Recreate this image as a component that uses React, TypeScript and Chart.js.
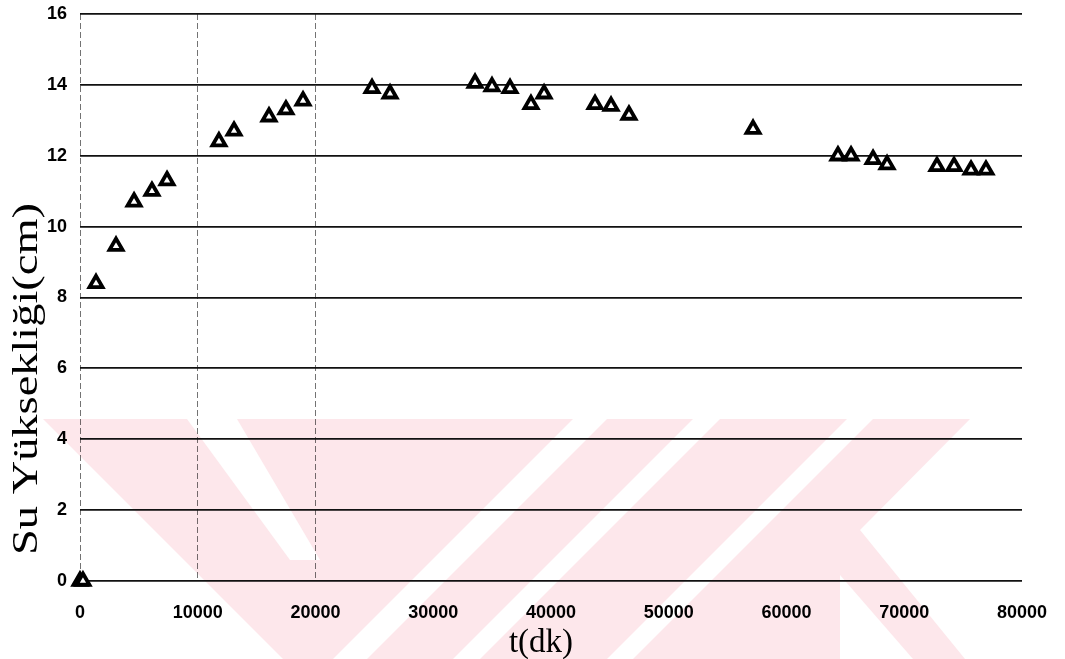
import React, { useEffect, useRef } from "react";
import { Chart, registerables } from "chart.js";

Chart.register(...registerables);

// ---- data ----
const timeMinutes = [
  0, 250, 1360, 3060, 4590, 6110, 7390, 11800, 13080, 16050, 17490, 18940,
  24800, 26330, 33550, 34990, 36520, 38300, 39410, 43740, 45100, 46620,
  57160, 64370, 65480, 67350, 68540, 72780, 74230, 75670, 76940,
];
const waterHeight = [
  0, 0, 8.4, 9.45, 10.7, 11.0, 11.3, 12.4, 12.7, 13.1, 13.3, 13.55,
  13.9, 13.75, 14.05, 13.95, 13.9, 13.45, 13.75, 13.45, 13.4, 13.15,
  12.75, 12.0, 12.0, 11.9, 11.75, 11.7, 11.7, 11.6, 11.6,
];
const xTickValues = [0, 10000, 20000, 30000, 40000, 50000, 60000, 70000, 80000];
const yTickValues = [0, 2, 4, 6, 8, 10, 12, 14, 16];
const dashedVerticals = [0, 10000, 20000];
const xTitle = "t(dk)";
const yTitle = "Su Yüksekliği(cm)";

const W = 1065;
const H = 659;

const watermarkPlugin = {
  id: "watermark",
  beforeDraw(chart: any) {
    const ctx = chart.ctx;
    ctx.save();
    ctx.fillStyle = "#ffffff";
    ctx.fillRect(0, 0, W, H);
    const poly = (pts: number[][], color: string) => {
      ctx.beginPath();
      ctx.moveTo(pts[0][0], pts[0][1]);
      for (let i = 1; i < pts.length; i++) ctx.lineTo(pts[i][0], pts[i][1]);
      ctx.closePath();
      ctx.fillStyle = color;
      ctx.fill();
    };
    const pink = "#fde7eb";
    poly([[43, 419], [970, 419], [860, 530], [965, 659], [283, 659]], pink);
    const white = "#ffffff";
    poly([[187, 419], [237, 419], [320, 560], [290, 560]], white);
    poly([[573, 419], [607, 419], [367, 659], [333, 659]], white);
    poly([[693, 419], [720, 419], [480, 659], [453, 659]], white);
    poly([[847, 419], [873, 419], [633, 659], [607, 659]], white);
    poly([[840, 575], [913, 659], [840, 659]], white);
    ctx.restore();
  },
};

const titlesPlugin = {
  id: "titles",
  afterDraw(chart: any) {
    const ctx = chart.ctx;
    ctx.save();
    ctx.fillStyle = "#000";
    ctx.font = 'normal 36px "Liberation Serif", "Times New Roman", serif';
    const w = ctx.measureText(yTitle).width;
    ctx.translate(37, 379);
    ctx.rotate(-Math.PI / 2);
    ctx.scale(352 / w, 1);
    ctx.textAlign = "center";
    ctx.textBaseline = "alphabetic";
    ctx.fillText(yTitle, 0, 0);
    ctx.restore();

    ctx.save();
    ctx.fillStyle = "#000";
    ctx.font = 'normal 33px "Liberation Serif", "Times New Roman", serif';
    ctx.textAlign = "center";
    ctx.textBaseline = "alphabetic";
    ctx.fillText(xTitle, 541, 652);
    ctx.restore();
  },
};

export default function App() {
  const ref = useRef<HTMLCanvasElement | null>(null);

  useEffect(() => {
    if (!ref.current) return;
    const points = timeMinutes.map((t, i) => ({ x: t, y: waterHeight[i] }));
    const chart = new Chart(ref.current, {
      type: "scatter",
      data: {
        datasets: [
          {
            data: points,
            showLine: false,
            pointStyle: "triangle",
            pointRadius: 7.5,
            pointHoverRadius: 7.5,
            pointBorderWidth: 3.8,
            borderColor: "#000",
            backgroundColor: "#fff",
            clip: false as any,
          },
        ],
      },
      options: {
        responsive: false,
        animation: false,
        events: [],
        layout: { padding: { left: 0, top: 14, right: 43, bottom: 0 } },
        plugins: {
          legend: { display: false },
          tooltip: { enabled: false },
          title: { display: false },
        },
        scales: {
          x: {
            type: "linear",
            min: xTickValues[0],
            max: xTickValues[xTickValues.length - 1],
            afterBuildTicks: (scale: any) => {
              scale.ticks = xTickValues.map((v) => ({ value: v }));
            },
            afterFit: (scale: any) => {
              scale.height = 78;
              scale.paddingLeft = 0;
              scale.paddingRight = 0;
            },
            border: { display: false, dash: [6, 3] },
            grid: {
              drawTicks: false,
              color: (c: any) =>
                c.tick && dashedVerticals.includes(c.tick.value)
                  ? "rgba(0,0,0,0.55)"
                  : "rgba(0,0,0,0)",
              lineWidth: 1,
            },
            ticks: {
              padding: 21,
              color: "#000",
              font: { family: '"Liberation Sans", Arial, sans-serif', size: 18, weight: "bold" },
              callback: (v: any) => String(v),
              maxRotation: 0,
              autoSkip: false,
            },
          },
          y: {
            type: "linear",
            min: yTickValues[0],
            max: yTickValues[yTickValues.length - 1],
            afterBuildTicks: (scale: any) => {
              scale.ticks = yTickValues.map((v) => ({ value: v }));
            },
            afterFit: (scale: any) => {
              scale.width = 80;
              scale.paddingTop = 0;
              scale.paddingBottom = 0;
            },
            border: { display: false },
            grid: {
              drawTicks: false,
              color: "#111",
              lineWidth: 1.8,
            },
            ticks: {
              padding: 13,
              color: "#000",
              font: { family: '"Liberation Sans", Arial, sans-serif', size: 18, weight: "bold" },
              callback: (v: any) => String(v),
              autoSkip: false,
            },
          },
        },
      },
      plugins: [watermarkPlugin, titlesPlugin],
    });
    return () => chart.destroy();
  }, []);

  return (
    <div style={{ position: "absolute", left: 0, top: 0, width: W, height: H, background: "#fff" }}>
      <canvas ref={ref} width={W} height={H} style={{ display: "block", width: W, height: H }} />
    </div>
  );
}
